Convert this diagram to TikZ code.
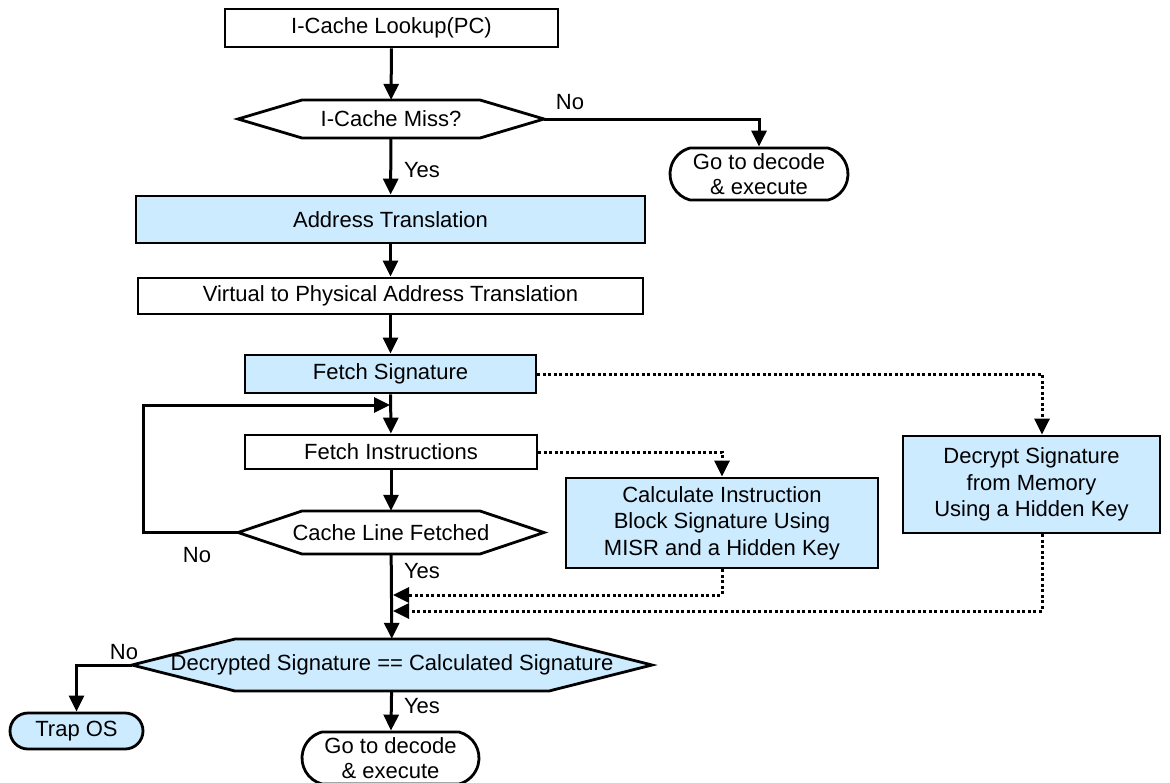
\documentclass[tikz,border=0pt]{standalone}
\usepackage{fontspec}
\setmainfont{Liberation Sans}
\usetikzlibrary{arrows.meta,shapes.misc,backgrounds,calc}
\definecolor{sigblue}{RGB}{204,235,255}

% Hexagonal decision outline centred on a text node:
% #1 node name, #2 half width of the flat top, #3 half height,
% #4 length of the pointed ends, #5 fill colour.
% Also defines the coordinates #1-l and #1-r at the two tips.
\newcommand\hexoutline[5]{%
  \coordinate (#1-l) at ($(#1.center)+(-#2-#4,0)$);
  \coordinate (#1-r) at ($(#1.center)+(#2+#4,0)$);
  \begin{scope}[on background layer]
    \draw[line width=2.8pt, fill=#5]
      ($(#1.center)+(-#2,-#3)$) -- ($(#1.center)+(#2,-#3)$) -- (#1-r) --
      ($(#1.center)+(#2,#3)$) -- ($(#1.center)+(-#2,#3)$) -- (#1-l) -- cycle;
  \end{scope}}

\begin{document}
\begin{tikzpicture}[x=1pt, y=-1pt,
  font=\fontsize{22}{26.5}\selectfont,
  box/.style={draw, line width=2.8pt, inner sep=0pt, align=center},
  shaded/.style={fill=sigblue},
  plain/.style={fill=white},
  pill/.style={rounded rectangle, rounded rectangle arc length=150,
               draw, line width=2.8pt, inner sep=0pt, align=center},
  hexcore/.style={inner sep=0pt, align=center},
  flow/.style={line width=3pt, -{Triangle[length=16pt,width=15pt]}},
  link/.style={line width=3pt, dash pattern=on 3pt off 2.5pt,
               -{Triangle[length=16pt,width=15pt]}},
  lbl/.style={inner sep=0pt}
]
\useasboundingbox (0,0) rectangle (1170,782);

% main column
\node[box, plain, minimum width=333pt, minimum height=38pt] (lookup) at (391.5,28) {I-Cache Lookup(PC)};
\node[hexcore, minimum height=38pt] (miss) at (391,119) {I-Cache Miss?};
\hexoutline{miss}{89}{19}{64}{white}
\node[box, shaded, minimum width=509pt, minimum height=47pt] (addr) at (390.5,219.5) {Address Translation};
\node[box, plain, minimum width=505pt, minimum height=36pt] (virt) at (390.5,296) {Virtual to Physical Address Translation};
\node[box, shaded, minimum width=291pt, minimum height=38pt] (fsig) at (390.5,374) {Fetch Signature};
\node[box, plain, minimum width=292pt, minimum height=34pt] (finst) at (391,452) {Fetch Instructions};
\node[hexcore, minimum height=43pt] (cline) at (391,532.5) {Cache Line Fetched};
\hexoutline{cline}{89}{21.5}{64}{white}
\node[hexcore, minimum height=52pt] (match) at (392,665) {Decrypted Signature == Calculated Signature};
\hexoutline{match}{157}{26}{103}{sigblue}

% side boxes
\node[pill, plain, minimum width=178pt, minimum height=52pt] (go1) at (759,174) {Go to decode\\[-1.5pt]\& execute};
\node[box, shaded, minimum width=312pt, minimum height=90pt] (calc) at (722,523)
  {Calculate Instruction\\Block Signature Using\\MISR and a Hidden Key};
\node[box, shaded, minimum width=257pt, minimum height=97pt] (dec) at (1031.5,484.5)
  {Decrypt Signature\\from Memory\\Using a Hidden Key};
\node[pill, shaded, rounded rectangle arc length=180, minimum width=133pt, minimum height=36pt] (trap) at (76.5,731) {Trap OS};
\node[pill, plain, minimum width=177pt, minimum height=52pt] (go2) at (390.5,758) {Go to decode\\[-1.5pt]\& execute};

% points where side paths meet the main column
\coordinate (loopin) at (390,405);
\coordinate (joinA) at (393,595);
\coordinate (joinB) at (393,611);

% solid flow
\draw[flow] (lookup) -- (miss);
\draw[flow] (miss) -- (addr);
\draw[flow] (miss-r) -| (go1);
\draw[flow] (addr) -- (virt);
\draw[flow] (virt) -- (fsig);
\draw[flow] (fsig) -- (finst);
\draw[flow] (finst) -- (cline);
\draw[flow] (cline-l) -- ++(-95pt,0) |- (loopin);
\draw[flow] (cline) -- (match);
\draw[flow] (match) -- (go2);
\draw[flow] (match-l) -| (trap);

% dotted data paths
\draw[link] (fsig) -| ([xshift=10.5pt]dec.north);
\draw[link] (finst) -| (calc);
\draw[link] (calc) |- (joinA);
\draw[link] ([xshift=10.5pt]dec.south) |- (joinB);

% branch labels
\node[lbl] (no1) at (570,102) {No};
\node[lbl] (yes1) at (422,170) {Yes};
\node[lbl] (no2) at (197,555) {No};
\node[lbl] (yes2) at (422,571) {Yes};
\node[lbl] (no3) at (124,652) {No};
\node[lbl] (yes3) at (422,706) {Yes};
\end{tikzpicture}
\end{document}
